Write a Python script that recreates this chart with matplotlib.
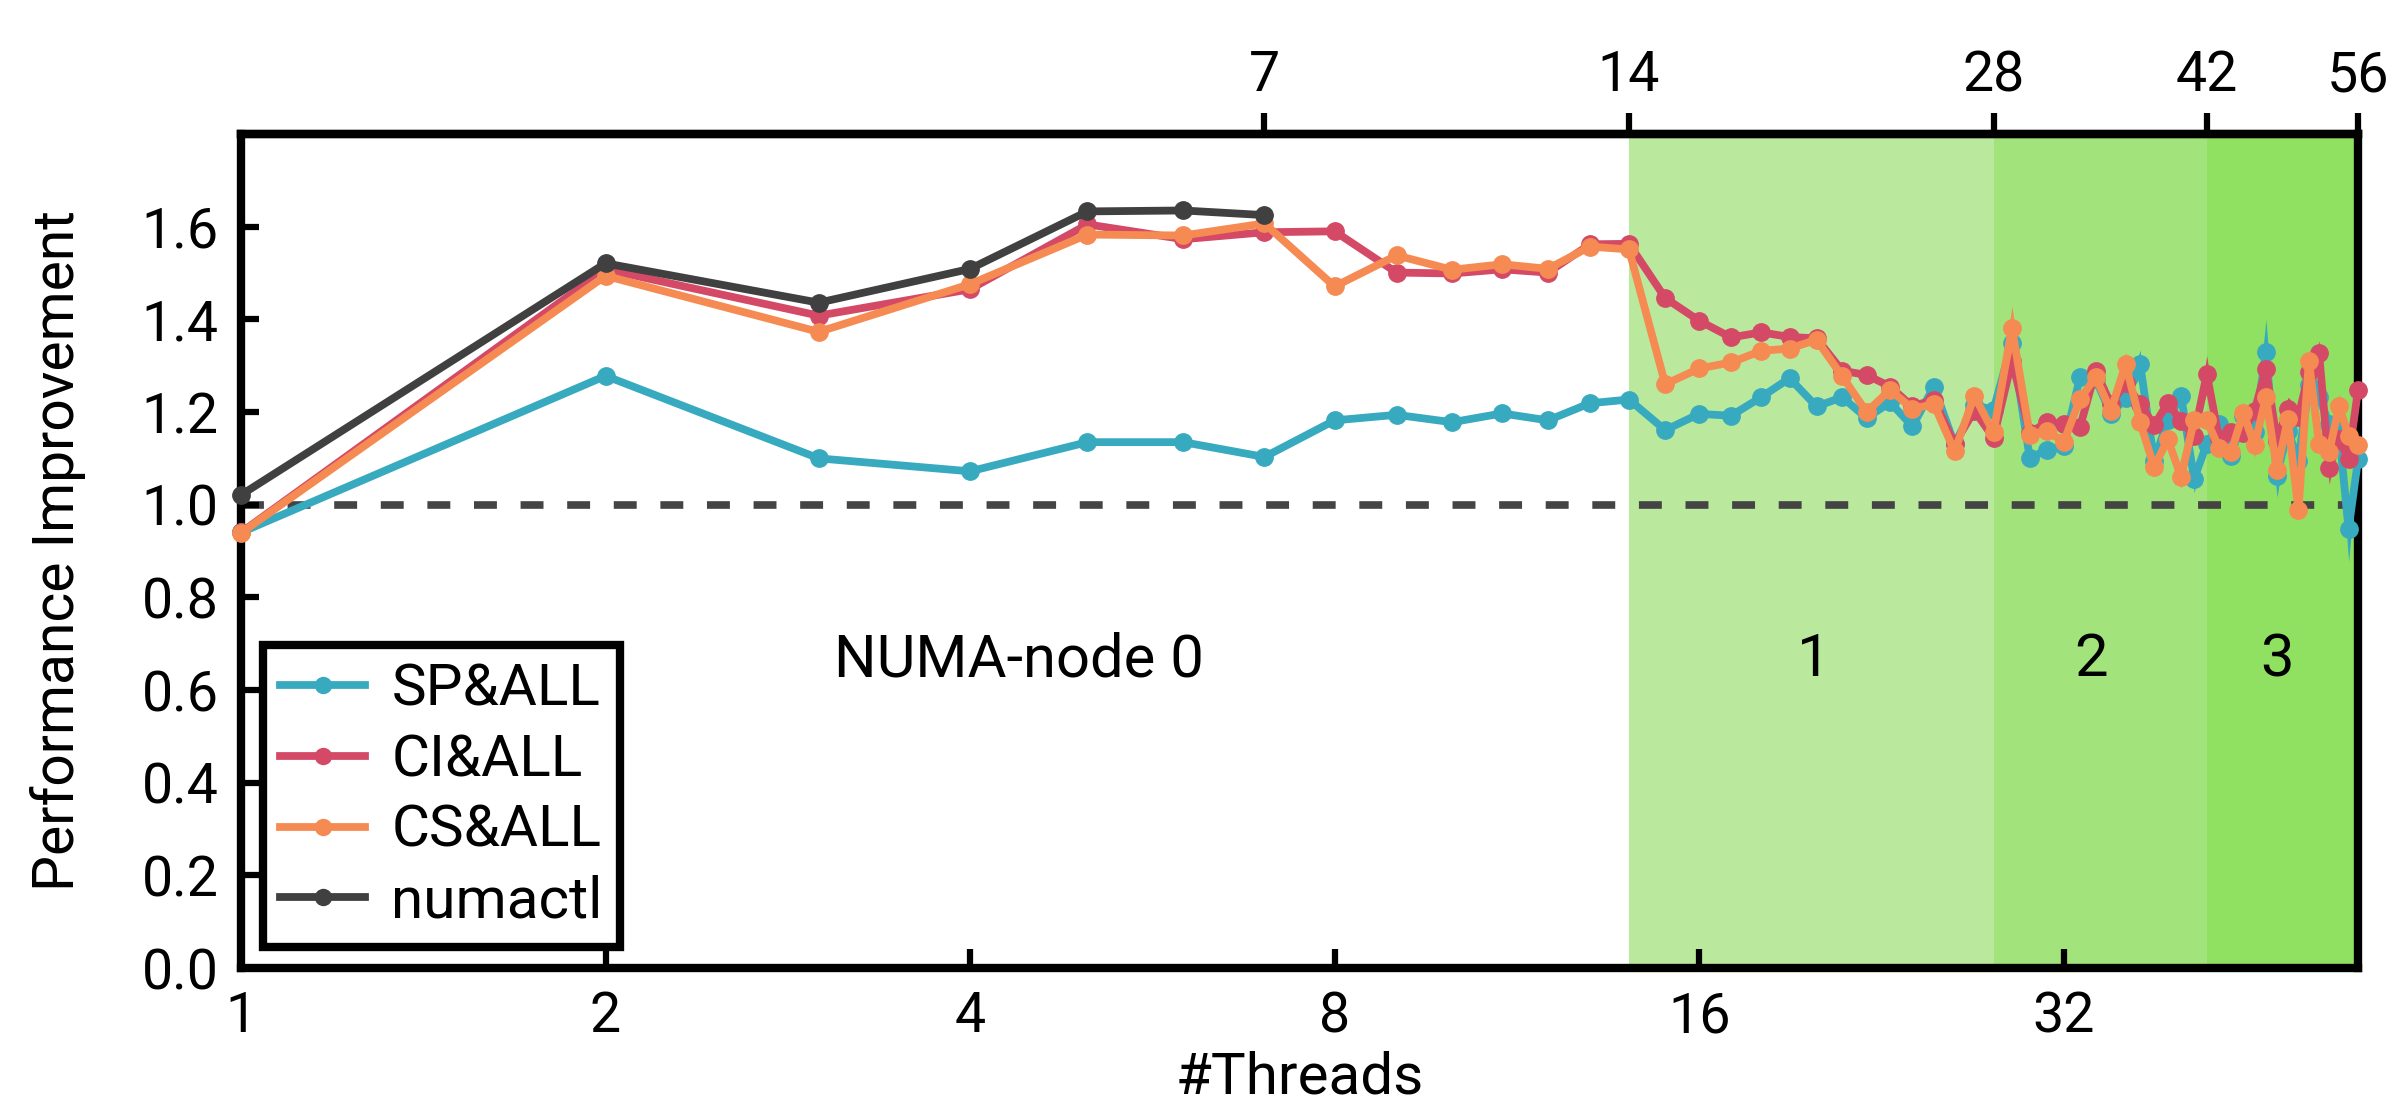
import matplotlib
matplotlib.use("Agg")
import matplotlib.pyplot as plt
from matplotlib.lines import Line2D
import numpy as np

plt.rcParams['font.family'] = ['Roboto', 'DejaVu Sans']

threads = list(range(1, 57))
numa_threads = list(range(1, 8))

sp_all = [0.940, 1.278, 1.100, 1.072, 1.135, 1.135, 1.103, 1.182, 1.194, 1.178,
          1.197, 1.182, 1.219, 1.227, 1.161, 1.196, 1.192, 1.232, 1.273, 1.212,
          1.232, 1.187, 1.221, 1.169, 1.255, 1.130, 1.215, 1.205, 1.350, 1.100,
          1.119, 1.126, 1.275, 1.271, 1.196, 1.230, 1.304, 1.095, 1.182, 1.235,
          1.056, 1.131, 1.174, 1.106, 1.192, 1.156, 1.330, 1.063, 1.160, 1.095,
          1.258, 1.232, 1.174, 1.160, 0.947, 1.098]
ci_all = [0.940, 1.508, 1.408, 1.465, 1.605, 1.573, 1.588, 1.590, 1.501, 1.499,
          1.508, 1.501, 1.562, 1.563, 1.446, 1.397, 1.361, 1.372, 1.362, 1.359,
          1.289, 1.280, 1.255, 1.212, 1.227, 1.131, 1.203, 1.144, 1.311, 1.155,
          1.178, 1.174, 1.167, 1.289, 1.217, 1.263, 1.217, 1.171, 1.220, 1.180,
          1.149, 1.282, 1.142, 1.156, 1.155, 1.203, 1.293, 1.138, 1.207, 1.190,
          1.286, 1.327, 1.079, 1.142, 1.099, 1.248]
cs_all = [0.939, 1.494, 1.373, 1.476, 1.583, 1.581, 1.607, 1.471, 1.538, 1.507,
          1.519, 1.509, 1.557, 1.551, 1.260, 1.294, 1.307, 1.332, 1.337, 1.356,
          1.277, 1.200, 1.248, 1.207, 1.217, 1.115, 1.235, 1.156, 1.382, 1.151,
          1.160, 1.135, 1.228, 1.275, 1.203, 1.304, 1.178, 1.081, 1.141, 1.060,
          1.182, 1.182, 1.122, 1.113, 1.198, 1.128, 1.232, 1.074, 1.185, 0.988,
          1.311, 1.131, 1.113, 1.212, 1.149, 1.128]
numactl = [1.021, 1.521, 1.436, 1.509, 1.633, 1.635, 1.625]

# spread (std) per thread count, visible as thin spikes
sp_std = [0]*28 + [0, 0.01, 0, 0, 0, 0, 0, 0, 0.03, 0, 0, 0, 0.03, 0, 0, 0,
                   0, 0, 0.07, 0.047, 0, 0, 0, 0, 0, 0, 0.07, 0]
ci_std = [0]*28 + [0, 0, 0, 0, 0, 0, 0, 0, 0, 0, 0, 0, 0, 0.04, 0, 0,
                   0, 0, 0, 0, 0.025, 0.02, 0, 0.027, 0.035, 0, 0, 0]
cs_std = [0]*28 + [0.047, 0, 0, 0, 0, 0, 0, 0.025, 0, 0.02, 0, 0.025, 0, 0, 0, 0,
                   0.023, 0.025, 0, 0, 0, 0, 0, 0, 0, 0.027, 0, 0]

bottom_ticks = [1, 2, 4, 8, 16, 32]
top_ticks = [7, 14, 28, 42, 56]
yticks = [0.0, 0.2, 0.4, 0.6, 0.8, 1.0, 1.2, 1.4, 1.6]
regions = [(14, 28), (28, 42), (42, 56)]
region_colors = ['#BAE99E', '#A2E37C', '#90E062']
region_labels = ['1', '2', '3']
region_label_x = [19.9, 33.7, 48.0]

c_sp = '#38AAC0'
c_ci = '#D44A66'
c_cs = '#F58B52'
c_nu = '#404040'

LW = 5.6
MS = 12.5

fig = plt.figure(figsize=(23.93, 11.15), dpi=100)
ax = fig.add_axes([0.1007, 0.1318, 0.8847, 0.748])
ax.set_xscale('log', base=2)
ax.set_xlim(1, 56)
ax.set_ylim(0, 1.8)

for (a, b), col in zip(regions, region_colors):
    ax.axvspan(a, b, color=col, lw=0, zorder=0)

ax.axhline(1.0, color='#444444', lw=5.5, dashes=(3.0, 3.1), zorder=1)

x = np.array(threads)
for vals, std, col, z in [(sp_all, sp_std, c_sp, 3), (ci_all, ci_std, c_ci, 4), (cs_all, cs_std, c_cs, 5)]:
    v = np.array(vals)
    s = np.array(std)
    ax.fill_between(x, v - s, v + s, color=col, lw=0, zorder=z)
    ax.plot(x, v, color=col, lw=LW, marker='o', ms=MS, zorder=z, clip_on=False)
ax.plot(numa_threads, numactl, color=c_nu, lw=LW, marker='o', ms=MS, zorder=6,
        clip_on=False)

ax.text(4.39, 0.665, 'NUMA-node 0', fontsize=43, ha='center', va='center', zorder=7)
for lx, lab in zip(region_label_x, region_labels):
    ax.text(lx, 0.665, lab, fontsize=43, ha='center', va='center', zorder=7)

ax.set_xticks(bottom_ticks)
ax.set_xticklabels([str(t) for t in bottom_ticks])
ax.xaxis.set_minor_locator(matplotlib.ticker.NullLocator())
ax.set_yticks(yticks)
ax.set_yticklabels([f'{t:.1f}' for t in yticks])
ax.tick_params(axis='x', which='major', direction='in', length=14, width=4.5,
               labelsize=40, pad=16, top=False)
ax.tick_params(axis='y', which='major', direction='in', length=13, width=4.5,
               labelsize=40, pad=16, right=False)

sec = ax.secondary_xaxis('top')
sec.set_xticks(top_ticks)
sec.set_xticklabels([str(t) for t in top_ticks])
sec.xaxis.set_minor_locator(matplotlib.ticker.NullLocator())
sec.tick_params(axis='x', which='major', direction='out', length=15, width=4.5,
                labelsize=40, pad=8)
for sp in sec.spines.values():
    sp.set_linewidth(6)

for sp in ax.spines.values():
    sp.set_linewidth(6)
    sp.set_color('black')

ax.set_ylabel('Performance Improvement', fontsize=41)
ax.yaxis.set_label_coords(-0.073, 0.5)
ax.set_xlabel('#Threads', fontsize=42)
ax.xaxis.set_label_coords(0.5, -0.099)
ax.xaxis.label.set_va('top')

handles = [Line2D([], [], color=c, lw=LW, marker='o', ms=MS - 1)
           for c in [c_sp, c_ci, c_cs, c_nu]]
leg = ax.legend(handles, ['SP&ALL', 'CI&ALL', 'CS&ALL', 'numactl'],
                loc='lower left', bbox_to_anchor=(0.0104, 0.025),
                fontsize=42, frameon=True, fancybox=False, framealpha=1,
                edgecolor='black', handlelength=1.45, handletextpad=0.45,
                labelspacing=0.27, borderpad=0.3, borderaxespad=0)
leg.get_frame().set_linewidth(6)
leg.set_zorder(20)

fig.savefig('out.png', dpi=100)
